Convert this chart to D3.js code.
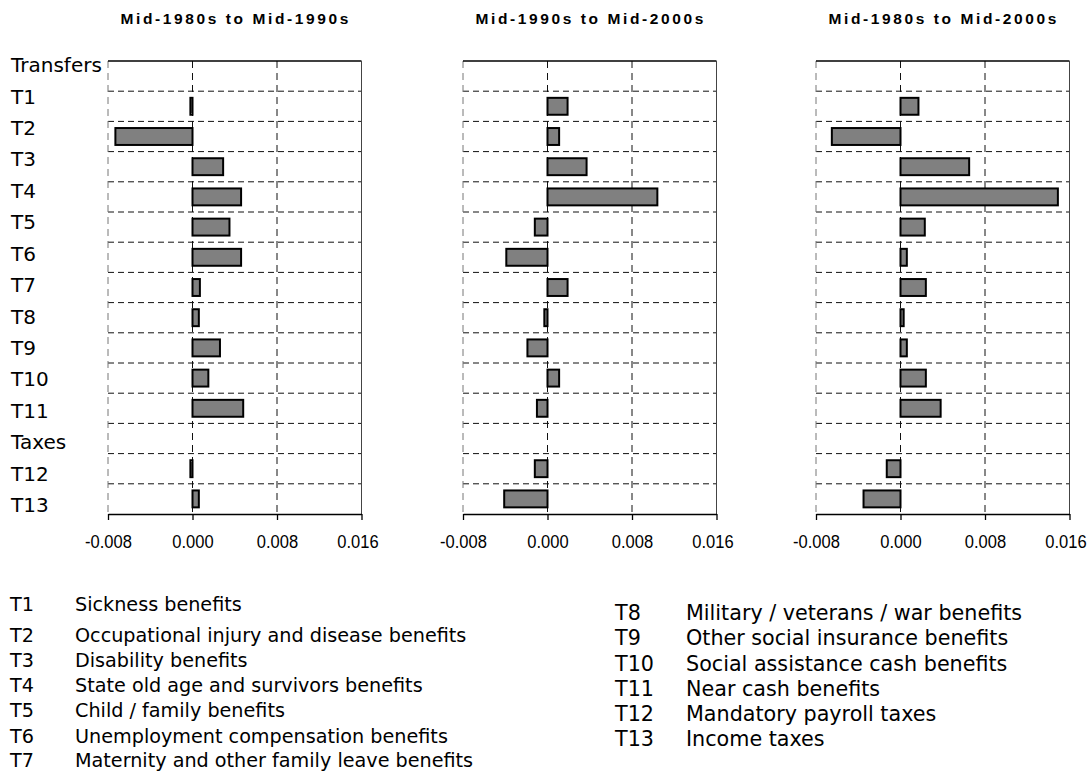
<!DOCTYPE html>
<html lang="en">
<head>
<meta charset="UTF-8">
<title>Transfers and taxes</title>
<style>
  body { margin: 0; background: #fff; }
  svg { display: block; }
</style>
</head>
<body>
<script src="https://cdn.jsdelivr.net/npm/d3@7/dist/d3.min.js"></script>
<script>
  var width = 1088;
  var height = 771;

  // rows of every panel, top to bottom
  var categories = ["Transfers", "T1", "T2", "T3", "T4", "T5", "T6", "T7", "T8", "T9", "T10", "T11", "Taxes", "T12", "T13"];

  var periods = ["Mid-1980s to Mid-1990s", "Mid-1990s to Mid-2000s", "Mid-1980s to Mid-2000s"];

  // (header rows have no bar)
  var values8595 = [null, -0.0002, -0.0073, 0.0029, 0.0046, 0.0035, 0.0046, 0.0007, 0.0006, 0.0026, 0.0015, 0.0048, null, -0.0002, 0.0006];
  var values9505 = [null, 0.0019, 0.0011, 0.0037, 0.0104, -0.0012, -0.0039, 0.0019, -0.0003, -0.0019, 0.0011, -0.0010, null, -0.0012, -0.0041];
  var values8505 = [null, 0.0017, -0.0065, 0.0065, 0.0149, 0.0023, 0.0006, 0.0024, 0.0003, 0.0006, 0.0024, 0.0038, null, -0.0013, -0.0035];

  var xTicks = [-0.008, 0, 0.008, 0.016];

  var legendCodes = ["T1", "T2", "T3", "T4", "T5", "T6", "T7", "T8", "T9", "T10", "T11", "T12", "T13"];
  var legendNames = ["Sickness benefits", "Occupational injury and disease benefits", "Disability benefits",
    "State old age and survivors benefits", "Child / family benefits", "Unemployment compensation benefits",
    "Maternity and other family leave benefits", "Military / veterans / war benefits",
    "Other social insurance benefits", "Social assistance cash benefits", "Near cash benefits",
    "Mandatory payroll taxes", "Income taxes"];

  var series = [values8595, values9505, values8505];

  var svg = d3.select("body").append("svg")
    .attr("width", width)
    .attr("height", height);

  var panelLeft = [108, 463, 816];
  var panelW = 253.5;
  var plotTop = 61, plotBottom = 514;

  var y = d3.scaleBand()
    .domain(categories)
    .range([plotTop, plotBottom])
    .paddingInner(0.44)
    .paddingOuter(0.22);

  var rowH = (plotBottom - plotTop) / categories.length;

  // category labels on the left (they sit a little apart from the rows)
  var yLabel = d3.scalePoint().domain(categories).range([65, 505]);

  svg.append("g").selectAll("text")
    .data(categories)
    .enter().append("text")
    .attr("x", 11)
    .attr("y", function (d) { return yLabel(d); })
    .attr("dy", "0.36em")
    .style("font-family", "'DejaVu Sans', Verdana, sans-serif")
    .style("font-size", "20px")
    .style("fill", "#000")
    .text(function (d) { return d; });

  var tickFmt = function (d) { return d3.format(".3f")(d).replace("\u2212", "-"); };

  series.forEach(function (vals, p) {
    var x0 = panelLeft[p];
    var x = d3.scaleLinear().domain([-0.008, 0.016]).range([x0, x0 + panelW]);
    var g = svg.append("g");

    // title
    g.append("text")
      .attr("x", x0 + panelW / 2 + 1)
      .attr("y", 24)
      .attr("text-anchor", "middle")
      .style("font-family", "'Liberation Sans', Arial, sans-serif")
      .style("font-weight", "bold")
      .style("font-size", "15.5px")
      .style("letter-spacing", "2.6px")
      .text(periods[p]);

    // horizontal dashed grid between rows
    g.append("g").selectAll("line")
      .data(d3.range(1, categories.length))
      .enter().append("line")
      .attr("x1", x0).attr("x2", x0 + panelW)
      .attr("y1", function (i) { return plotTop + i * rowH; })
      .attr("y2", function (i) { return plotTop + i * rowH; })
      .style("stroke", "#111")
      .style("stroke-dasharray", "6,4");

    // vertical dashed grid
    g.append("g").selectAll("line")
      .data(xTicks.slice(0, 3))
      .enter().append("line")
      .attr("x1", function (d) { return x(d); })
      .attr("x2", function (d) { return x(d); })
      .attr("y1", plotTop).attr("y2", plotBottom)
      .style("stroke", function (d, i) { return i === 0 ? "#777" : "#111"; })
      .style("stroke-dasharray", "7,5");

    // top and right borders
    g.append("line")
      .attr("x1", x0).attr("x2", x0 + panelW)
      .attr("y1", plotTop).attr("y2", plotTop)
      .style("stroke", "#000")
      .style("stroke-width", 1.3);
    g.append("line")
      .attr("x1", x0 + panelW).attr("x2", x0 + panelW)
      .attr("y1", plotTop).attr("y2", plotBottom)
      .style("stroke", "#444");

    // bars
    g.append("g").selectAll("rect")
      .data(categories.map(function (c, i) { return { cat: c, v: vals[i] }; })
        .filter(function (d) { return d.v !== null; }))
      .enter().append("rect")
      .attr("x", function (d) { return x(Math.min(0, d.v)); })
      .attr("y", function (d) { return y(d.cat); })
      .attr("width", function (d) { return Math.abs(x(d.v) - x(0)); })
      .attr("height", y.bandwidth())
      .style("fill", "#808080")
      .style("stroke", "#000")
      .style("stroke-width", 2);

    // bottom axis
    var axis = g.append("g")
      .attr("transform", "translate(0," + plotBottom + ")")
      .call(d3.axisBottom(x)
        .tickValues(xTicks)
        .tickFormat(tickFmt)
        .tickSizeInner(6)
        .tickSizeOuter(0)
        .tickPadding(15));
    // the original tick font is a narrow one; last label squeezed in at the edge
    axis.selectAll("text")
      .attr("transform", function (d, i) {
        return (i === xTicks.length - 1 ? "translate(-4,0) " : "") + "scale(0.87,1)";
      })
      .style("font-family", "'Liberation Sans', Arial, sans-serif")
      .style("font-size", "19px")
      .style("fill", "#000");
    axis.selectAll("path, line").style("stroke", "#000").style("stroke-width", 1.3);
  });

  // legend, two columns (right column is set a bit larger in the original)
  var legendLeftY = [611, 642, 667, 692, 717, 743, 767];
  var legendRightY = [620, 645, 671, 696, 721, 746];

  var legend = svg.append("g")
    .style("font-family", "'DejaVu Sans', Verdana, sans-serif")
    .style("fill", "#000");

  legendCodes.forEach(function (code, i) {
    var left = i < 7;
    var ly = left ? legendLeftY[i] : legendRightY[i - 7];
    var fs = left ? "19.2px" : "20.7px";
    legend.append("text")
      .attr("x", left ? 10 : 615)
      .attr("y", ly)
      .style("font-size", fs)
      .text(code);
    legend.append("text")
      .attr("x", left ? 75 : 686)
      .attr("y", ly)
      .style("font-size", fs)
      .text(legendNames[i]);
  });
</script>
</body>
</html>
